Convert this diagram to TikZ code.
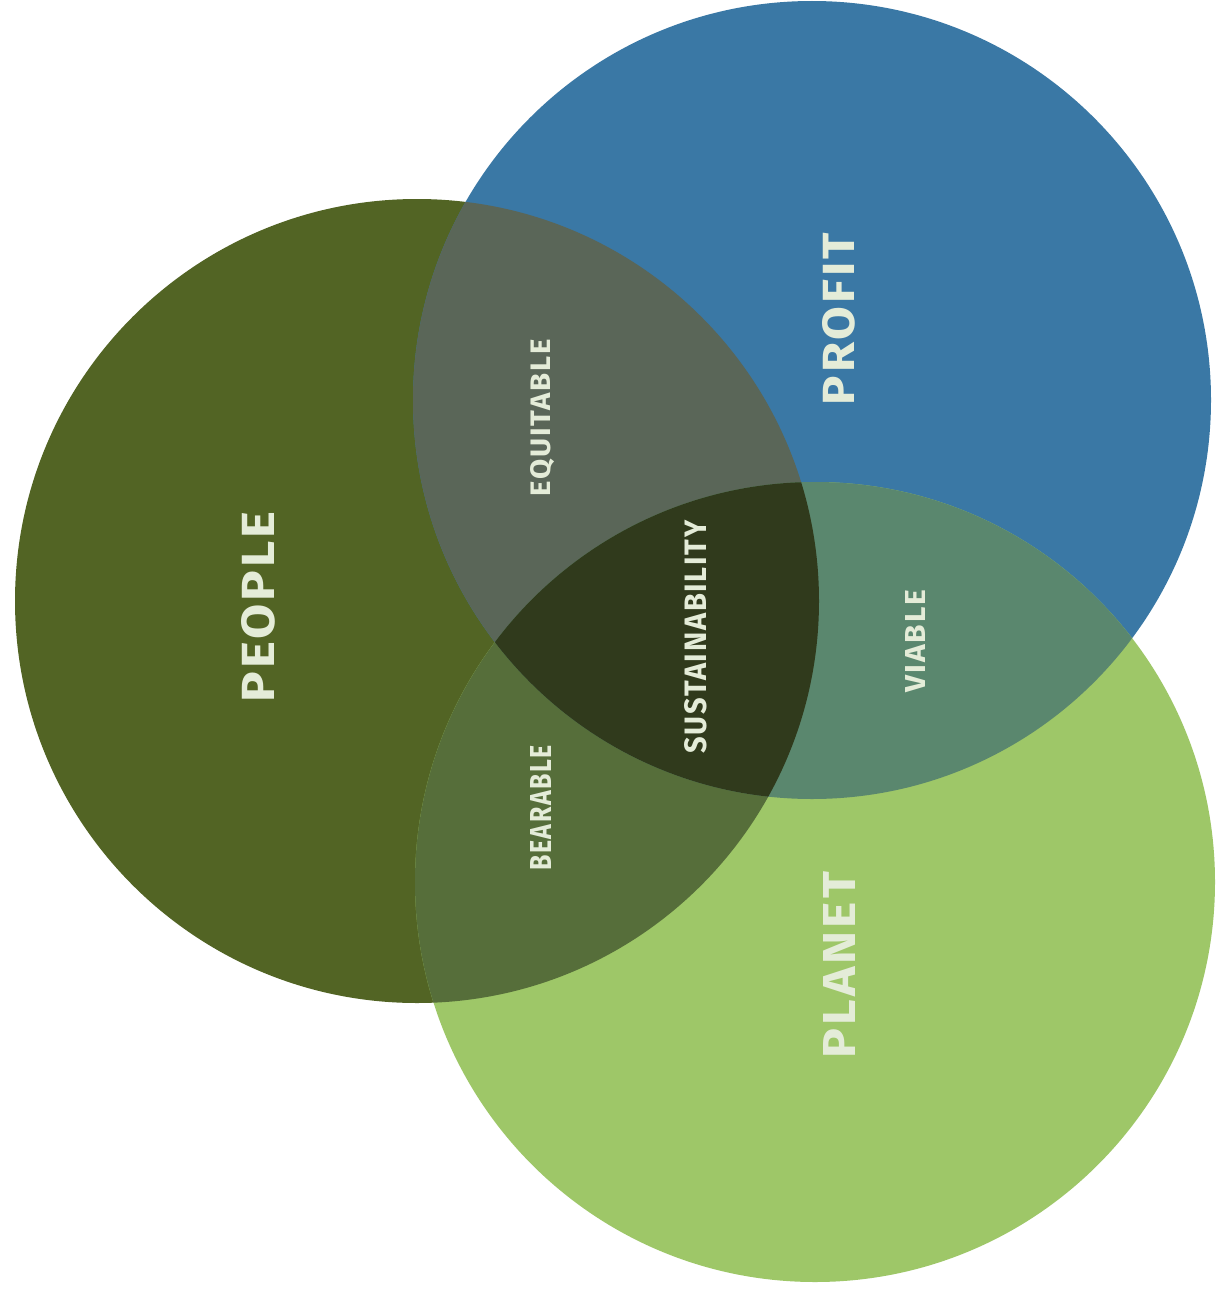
\documentclass[tikz,border=0pt]{standalone}
\usepackage{fontspec}
\setmainfont{Fira Sans}
\newfontfamily\labfont[LetterSpace=6]{Fira Sans}
\definecolor{peoplec}{HTML}{526424}
\definecolor{profitc}{HTML}{3A78A5}
\definecolor{planetc}{HTML}{9EC768}
\definecolor{equitc}{HTML}{5A6658}
\definecolor{bearc}{HTML}{566E3A}
\definecolor{viablec}{HTML}{5A876E}
\definecolor{sustc}{HTML}{303A1C}
\definecolor{labc}{HTML}{E4ECD8}
\newcommand{\fitlab}[3]{\resizebox{#1pt}{#2pt}{\labfont\bfseries #3}}
\begin{document}
\begin{tikzpicture}[x=1pt,y=-1pt,
  lab/.style={text=labc, inner sep=0pt, outer sep=0pt, rotate=90, anchor=center}]
\fill[white] (0,0) rectangle (1218,1306);
\path[use as bounding box] (0,0) rectangle (1218,1306);
\coordinate (cpe) at (417,601);
\coordinate (cpr) at (812,400);
\coordinate (cpl) at (815,882);
\def\rpe{402}
\def\rpr{399}
\def\rpl{400}
% base circles
\fill[peoplec] (cpe) circle[radius=\rpe];
\fill[profitc] (cpr) circle[radius=\rpr];
\fill[planetc] (cpl) circle[radius=\rpl];
% pairwise overlaps
\begin{scope}
  \clip (cpe) circle[radius=\rpe];
  \fill[equitc] (cpr) circle[radius=\rpr];
\end{scope}
\begin{scope}
  \clip (cpe) circle[radius=\rpe];
  \fill[bearc] (cpl) circle[radius=\rpl];
\end{scope}
\begin{scope}
  \clip (cpr) circle[radius=\rpr];
  \fill[viablec] (cpl) circle[radius=\rpl];
\end{scope}
% triple overlap
\begin{scope}
  \clip (cpe) circle[radius=\rpe];
  \clip (cpr) circle[radius=\rpr];
  \fill[sustc] (cpl) circle[radius=\rpl];
\end{scope}
% labels
\node[lab] (people) at (258,607) {\fitlab{191}{33}{PEOPLE}};
\node[lab] (profit) at (839,319) {\fitlab{172}{32}{PROFIT}};
\node[lab] (planet) at (839,965) {\fitlab{186}{32}{PLANET}};
\node[lab] (equitable) at (543,418) {\fitlab{157}{20}{EQUITABLE}};
\node[lab] (sustain) at (696,637) {\fitlab{233}{22}{SUSTAINABILITY}};
\node[lab] (viable) at (915,641) {\fitlab{102}{20}{VIABLE}};
\node[lab] (bearable) at (541,808) {\fitlab{125}{21}{BEARABLE}};
\end{tikzpicture}
\end{document}
